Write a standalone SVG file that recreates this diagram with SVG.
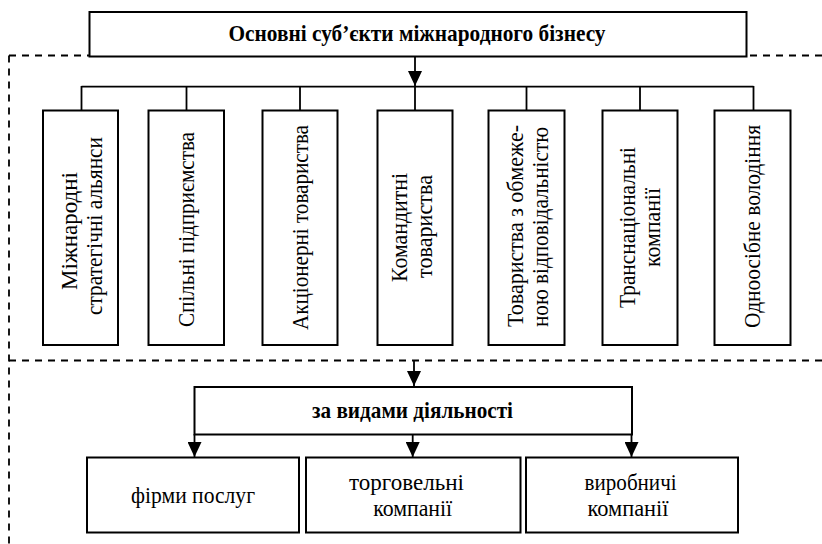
<svg xmlns="http://www.w3.org/2000/svg" width="822" height="544" viewBox="0 0 822 544">
<style>
.box{fill:#fff;stroke:#000;stroke-width:2}
.ln{fill:none;stroke:#000;stroke-width:1.8}
.dash{fill:none;stroke:#000;stroke-width:1.8;stroke-dasharray:7 6}
.t{font-family:'Liberation Serif','Times New Roman',serif;font-size:23.5px;fill:#000;text-anchor:middle}
.b{font-weight:bold;font-size:23px}
</style>
<defs>
<marker id="arr" markerWidth="15" markerHeight="14" refX="15" refY="7" orient="auto" markerUnits="userSpaceOnUse" viewBox="0 0 15 14">
<path d="M0,0 L15,7 L0,14 Z" fill="#000"/>
</marker>
</defs>
<g id="frame">
<line class="dash" x1="9" y1="55.5" x2="822" y2="55.5"/>
<line class="dash" x1="9" y1="55.5" x2="9" y2="544"/>
<line class="dash" x1="9" y1="360.5" x2="822" y2="360.5"/>
</g>
<g id="connectors">
<line class="ln" x1="415" y1="56" x2="415" y2="86" marker-end="url(#arr)"/>
<line class="ln" x1="81.5" y1="86.7" x2="753.5" y2="86.7"/>
<line class="ln" x1="81.5" y1="86" x2="81.5" y2="111"/>
<line class="ln" x1="186.5" y1="86" x2="186.5" y2="111"/>
<line class="ln" x1="300" y1="86" x2="300" y2="111"/>
<line class="ln" x1="415" y1="86" x2="415" y2="111"/>
<line class="ln" x1="526.5" y1="86" x2="526.5" y2="111"/>
<line class="ln" x1="640" y1="86" x2="640" y2="111"/>
<line class="ln" x1="753.5" y1="86" x2="753.5" y2="111"/>
<line class="ln" x1="414" y1="360" x2="414" y2="386" marker-end="url(#arr)"/>
<line class="ln" x1="194.5" y1="434" x2="194.5" y2="457" marker-end="url(#arr)"/>
<line class="ln" x1="412.7" y1="434" x2="412.7" y2="457" marker-end="url(#arr)"/>
<line class="ln" x1="631.5" y1="434" x2="631.5" y2="457" marker-end="url(#arr)"/>
</g>
<g id="root">
<rect class="box" x="89.5" y="12" width="657" height="44.5"/>
<text class="t b" x="417" y="41" textLength="377" lengthAdjust="spacingAndGlyphs">Основні суб’єкти міжнародного бізнесу</text>
</g>
<g id="n1">
<rect class="box" x="43" y="110.5" width="75" height="234.5"/>
<text class="t" transform="translate(77,231) rotate(-90)" textLength="118" lengthAdjust="spacingAndGlyphs">Міжнародні</text>
<text class="t" transform="translate(101.5,226) rotate(-90)" textLength="178" lengthAdjust="spacingAndGlyphs">стратегічні альянси</text>
</g>
<g id="n2">
<rect class="box" x="148.5" y="110.5" width="75.5" height="234.5"/>
<text class="t" transform="translate(193.5,229.5) rotate(-90)" textLength="195" lengthAdjust="spacingAndGlyphs">Спільні підприємства</text>
</g>
<g id="n3">
<rect class="box" x="262.5" y="110.5" width="75" height="234.5"/>
<text class="t" transform="translate(307.5,227.5) rotate(-90)" textLength="205" lengthAdjust="spacingAndGlyphs">Акціонерні товариства</text>
</g>
<g id="n4">
<rect class="box" x="377.5" y="110.5" width="75" height="234.5"/>
<text class="t" transform="translate(407,227.5) rotate(-90)" textLength="109" lengthAdjust="spacingAndGlyphs">Командитні</text>
<text class="t" transform="translate(432,226.5) rotate(-90)" textLength="103" lengthAdjust="spacingAndGlyphs">товариства</text>
</g>
<g id="n5">
<rect class="box" x="488.5" y="110.5" width="76" height="234.5"/>
<text class="t" transform="translate(523,226) rotate(-90)" textLength="202" lengthAdjust="spacingAndGlyphs">Товариства з обмеже-</text>
<text class="t" transform="translate(547.5,227) rotate(-90)" textLength="200" lengthAdjust="spacingAndGlyphs">ною відповідальністю</text>
</g>
<g id="n6">
<rect class="box" x="602.5" y="110.5" width="75" height="234.5"/>
<text class="t" transform="translate(635,227.5) rotate(-90)" textLength="161" lengthAdjust="spacingAndGlyphs">Транснаціональні</text>
<text class="t" transform="translate(660,227.5) rotate(-90)" textLength="79" lengthAdjust="spacingAndGlyphs">компанії</text>
</g>
<g id="n7">
<rect class="box" x="714.5" y="110.5" width="76" height="234.5"/>
<text class="t" transform="translate(760,226.5) rotate(-90)" textLength="203" lengthAdjust="spacingAndGlyphs">Одноосібне володіння</text>
</g>
<g id="activity">
<rect class="box" x="194.5" y="387" width="437.5" height="47.5"/>
<text class="t b" x="412.5" y="418" textLength="201" lengthAdjust="spacingAndGlyphs">за видами діяльності</text>
</g>
<g id="services">
<rect class="box" x="87" y="457.5" width="212" height="75"/>
<text class="t" x="193" y="503" textLength="124" lengthAdjust="spacingAndGlyphs">фірми послуг</text>
</g>
<g id="trade">
<rect class="box" x="306" y="457.5" width="214.5" height="75"/>
<text class="t" x="406.5" y="490" textLength="115" lengthAdjust="spacingAndGlyphs">торговельні</text>
<text class="t" x="412.7" y="515.5" textLength="79" lengthAdjust="spacingAndGlyphs">компанії</text>
</g>
<g id="production">
<rect class="box" x="526" y="457.5" width="212" height="75"/>
<text class="t" x="630.6" y="490" textLength="92" lengthAdjust="spacingAndGlyphs">виробничі</text>
<text class="t" x="628" y="515.5" textLength="81" lengthAdjust="spacingAndGlyphs">компанії</text>
</g>
</svg>
